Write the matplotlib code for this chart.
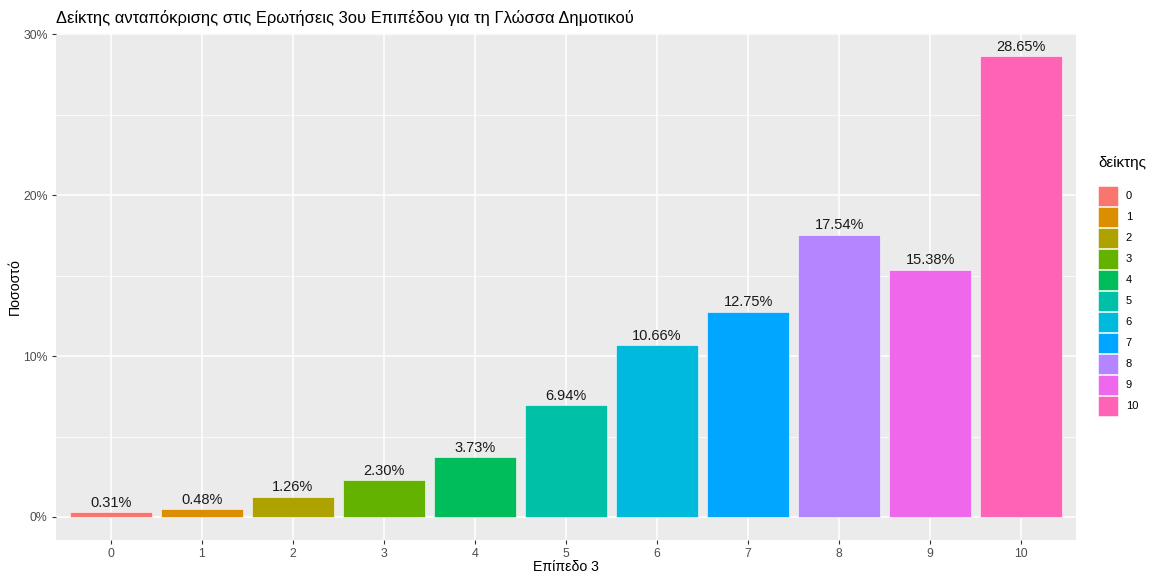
#!/usr/bin/env python3
"""
Bar chart of response index for level-3 questions (Greek language, primary school).
"""

import matplotlib
matplotlib.use("Agg")
import matplotlib.pyplot as plt
from matplotlib.patches import Patch
from matplotlib.ticker import MultipleLocator, FuncFormatter

plt.rcParams['font.family'] = ['Liberation Sans', 'DejaVu Sans']

# Data
levels = ['0', '1', '2', '3', '4', '5', '6', '7', '8', '9', '10']
percentages = [0.31, 0.48, 1.26, 2.30, 3.73, 6.94, 10.66, 12.75, 17.54, 15.38, 28.65]
colors = ['#F8766D', '#DB8E00', '#AEA200', '#64B200', '#00BD5C', '#00C1A7',
          '#00BADE', '#00A6FF', '#B385FF', '#EF67EB', '#FF63B6']

title = 'Δείκτης ανταπόκρισης στις Ερωτήσεις 3ου Επιπέδου για τη Γλώσσα Δημοτικού'
x_label = 'Επίπεδο 3'
y_label = 'Ποσοστό'
legend_title = 'δείκτης'

fig = plt.figure(figsize=(11.49, 5.74), dpi=100)
ax = fig.add_axes([0.0487, 0.0592, 0.8878, 0.8833])
ax.set_facecolor('#EBEBEB')

x = list(range(len(levels)))
ax.bar(x, percentages, width=0.9, color=colors, edgecolor='white', linewidth=0.4, zorder=3)

for xi, val in zip(x, percentages):
    ax.text(xi, val + 0.15, f'{val:.2f}%', ha='center', va='bottom',
            fontsize=10.5, color='#1a1a1a', zorder=4)

# Scales (ggplot-style expansion)
top = max(percentages)
ax.set_ylim(-0.05 * top, top * 1.05)
ax.set_xlim(-0.6, len(levels) - 1 + 0.6)

ax.yaxis.set_major_locator(MultipleLocator(10))
ax.yaxis.set_minor_locator(MultipleLocator(5))
ax.yaxis.set_major_formatter(FuncFormatter(lambda v, p: f'{v:.0f}%'))
ax.set_xticks(x)
ax.set_xticklabels(levels)

ax.grid(which='major', color='white', linewidth=1.1, zorder=0)
ax.grid(which='minor', axis='y', color='white', linewidth=0.55, zorder=0)
ax.set_axisbelow(True)

for spine in ax.spines.values():
    spine.set_visible(False)

ax.tick_params(which='major', length=3, width=0.8, color='#333333',
               labelsize=8.8, labelcolor='#4D4D4D', pad=3)
ax.tick_params(which='minor', length=0)

ax.set_xlabel(x_label, fontsize=10.2, color='black', labelpad=0)
ax.set_ylabel(y_label, fontsize=10.2, color='black', labelpad=1)
ax.set_title(title, fontsize=11.9, loc='left', pad=7, color='black')

# Legend (title drawn separately to get the ggplot gap above the keys)
handles = [Patch(facecolor=c, edgecolor='white', linewidth=0.4, label=l)
           for c, l in zip(colors, levels)]
fig.text(0.9556, 1 - 163 / 574, legend_title, fontsize=11, ha='left', va='center')
leg = fig.legend(handles=handles, loc='upper left',
                 bbox_to_anchor=(0.9556, 1 - 186 / 574), frameon=False, fontsize=8,
                 handlelength=1.8, handleheight=2.39, borderpad=0,
                 labelspacing=0.09, handletextpad=0.7, borderaxespad=0)

fig.savefig('out.png', dpi=100, facecolor='white')
